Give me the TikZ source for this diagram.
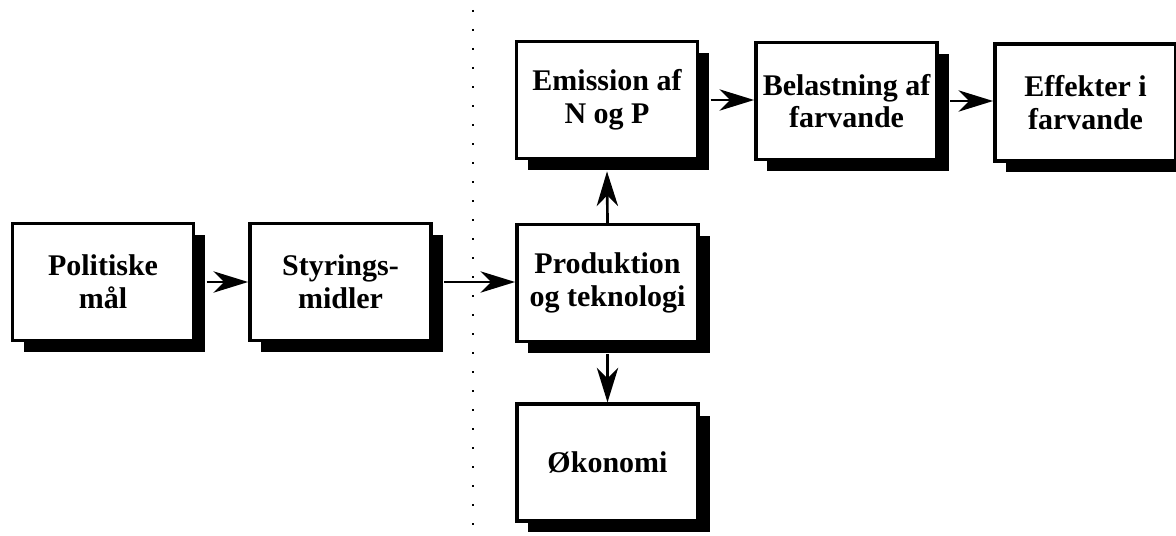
\documentclass[tikz,border=0pt]{standalone}
\usepackage{fontspec}
\setmainfont{Liberation Serif}
\usetikzlibrary{arrows.meta,shadows}
\begin{document}
\begin{tikzpicture}[x=0.75pt,y=-0.75pt,
  box/.style={draw=black, line width=2.6pt, fill=white, rectangle,
    minimum width=136pt, minimum height=87.5pt, inner sep=0pt,
    align=center, font=\fontsize{22.5}{24.5}\selectfont\bfseries,
    general shadow={fill=black, shadow xshift=8.5pt, shadow yshift=-8.5pt}},
  link/.style={draw=black, line width=2pt,
    -{Stealth[length=26pt, width=16pt, inset=8pt]}},
  divider/.style={draw=black, line width=1.3pt, dash pattern=on 1.8pt off 12.45pt}]
  \useasboundingbox (0,0) rectangle (1176,535);
  \clip (0,0) rectangle (1176,535);

  % divider between policy side and production side
  \coordinate (dtop) at (473,10);
  \coordinate (dbot) at (473,535);
  \draw[divider] (dtop) -- (dbot);

  % boxes
  \node[box] (pol) at (103,282) {Politiske\\mål};
  \node[box] (sty) at (340.5,282) {Styrings-\\midler};
  \node[box] (pro) at (607.5,283) {Produktion\\og teknologi};
  \node[box] (oko) at (607.5,462.5) {Økonomi};
  \node[box] (emi) at (607,100) {Emission af\\N og P};
  \node[box] (bel) at (846.5,101) {Belastning af\\farvande};
  \node[box] (eff) at (1085.5,102.5) {Effekter i\\farvande};

  % connectors
  \draw[link] ([xshift=8.5pt]pol.east) -- (sty.west);
  \draw[link] ([xshift=8.5pt]sty.east) -- (pro.west |- sty.east);
  \draw[link] (pro.north) -- ([yshift=-8.5pt]emi.south);
  \draw[link] ([yshift=-8.5pt]pro.south) -- (oko.north);
  \draw[link] ([xshift=8.5pt]emi.east) -- (bel.west |- emi.east);
  \draw[link] ([xshift=8.5pt]bel.east) -- (eff.west |- bel.east);
\end{tikzpicture}
\end{document}
